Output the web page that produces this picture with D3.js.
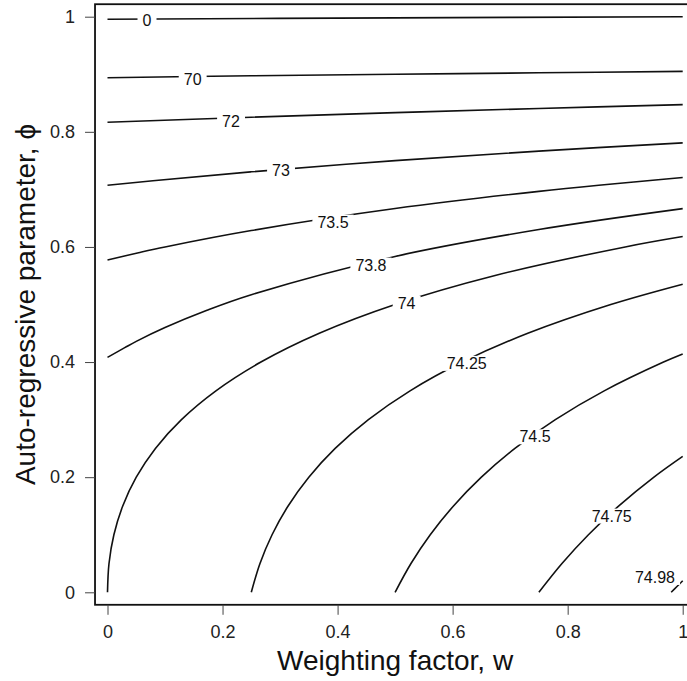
<!DOCTYPE html>
<html>
<head>
<meta charset="utf-8">
<script src="https://cdn.jsdelivr.net/npm/d3@7/dist/d3.min.js"></script>
<style>
  body { margin: 0; background: #fff; }
  svg { font-family: "Liberation Sans", Arial, Helvetica, sans-serif; }
</style>
</head>
<body>
<div id="chart"></div>
<script>
// contour levels and the [w, phi] points of each line
var levels = ["0", "70", "72", "73", "73.5", "73.8", "74", "74.25", "74.5", "74.75", "74.98"];

var line0 = [[0, 0.9955], [0.5, 0.998], [1, 1.0]];
var line70 = [[0, 0.894], [0.25, 0.8973], [0.5, 0.9], [0.75, 0.9025], [1, 0.905]];
var line72 = [[0, 0.8165], [0.25, 0.8254], [0.5, 0.8333], [0.75, 0.8406], [1, 0.8472]];
var line73 = [[0, 0.7071], [0.079, 0.715], [0.25, 0.7305], [0.5, 0.75], [0.75, 0.7665], [1, 0.7808]];
var line735 = [[0, 0.5774], [0.054, 0.59], [0.1, 0.6], [0.25, 0.6285], [0.5, 0.6667], [0.75, 0.6965], [1, 0.7207]];
var line738 = [[0, 0.4082], [0.03, 0.425], [0.05, 0.436], [0.1, 0.46], [0.173, 0.49], [0.25, 0.517], [0.5, 0.5835], [0.75, 0.6302], [1, 0.6665]];
var line74 = [[0, 0], [0.0026, 0.05], [0.0111, 0.1], [0.0265, 0.15], [0.05, 0.2], [0.0833, 0.25], [0.1286, 0.3],
              [0.1885, 0.35], [0.2667, 0.4], [0.3682, 0.45], [0.5, 0.5], [0.6722, 0.55], [0.9, 0.6], [1, 0.618]];
var line7425 = [[0.25, 0], [0.2651, 0.05], [0.2861, 0.1], [0.314, 0.15], [0.35, 0.2], [0.3958, 0.25], [0.4536, 0.3],
                [0.526, 0.35], [0.6167, 0.4], [0.7307, 0.45], [0.875, 0.5], [1, 0.5353]];
var line745 = [[0.5, 0], [0.5276, 0.05], [0.5611, 0.1], [0.6015, 0.15], [0.65, 0.2], [0.7083, 0.25], [0.7786, 0.3],
               [0.8635, 0.35], [0.9667, 0.4], [1, 0.414]];
var line7475 = [[0.75, 0], [0.7901, 0.05], [0.8361, 0.1], [0.889, 0.15], [0.95, 0.2], [1, 0.236]];
var line7498 = [[0.98, 0], [0.99, 0.01], [1, 0.02]];

var contourLines = [line0, line70, line72, line73, line735, line738, line74, line7425, line745, line7475, line7498];

// where each level's label sits, [w, phi]
var labelPos = [[0.0686, 0.9943], [0.148, 0.8918], [0.2147, 0.8176], [0.3016, 0.7325], [0.392, 0.6433], [0.458, 0.5686],
                [0.52, 0.5021], [0.6245, 0.3979], [0.7432, 0.2703], [0.8766, 0.1326], [0.9518, 0.026]];

var xTicks = [0, 0.2, 0.4, 0.6, 0.8, 1];
var yTicks = [0, 0.2, 0.4, 0.6, 0.8, 1];

var width = 687;
var height = 681;
var plot = { left: 107.5, right: 682.7, top: 16.7, bottom: 592.3 };
var pad = 0.0217;
var tickLength = 10;
var labelFontSize = 16;

var x = d3.scaleLinear().domain([0, 1]).range([plot.left, plot.right]);
var y = d3.scaleLinear().domain([0, 1]).range([plot.bottom, plot.top]);

var fmt = function(d) { return (d === 0 || d === 1) ? String(d) : d3.format(".1f")(d); };

var svg = d3.select("#chart").append("svg")
    .attr("width", width)
    .attr("height", height);

var line = d3.line()
    .x(function(d) { return x(d[0]); })
    .y(function(d) { return y(d[1]); })
    .curve(d3.curveCatmullRom);

svg.append("g")
    .attr("class", "contours")
    .selectAll("path")
    .data(contourLines)
    .enter().append("path")
    .attr("d", line)
    .attr("fill", "none")
    .attr("stroke", "#111")
    .attr("stroke-width", 1.6);

// labels break the line, as R's contour() does
var labels = svg.append("g")
    .attr("class", "labels")
    .selectAll("g")
    .data(levels)
    .enter().append("g")
    .attr("transform", function(d, i) {
        return "translate(" + x(labelPos[i][0]) + "," + y(labelPos[i][1]) + ")";
    });

labels.append("rect").attr("fill", "#fff");

labels.append("text")
    .attr("text-anchor", "middle")
    .attr("dy", "0.35em")
    .style("font-size", labelFontSize + "px")
    .attr("fill", "#111")
    .text(function(d) { return d; });

labels.each(function() {
    var g = d3.select(this);
    var b = g.select("text").node().getBBox();
    g.select("rect")
        .attr("x", b.x - 5)
        .attr("y", b.y + 1)
        .attr("width", b.width + 10)
        .attr("height", b.height - 2);
});

// frame
svg.append("rect")
    .attr("x", x(-pad))
    .attr("y", y(1 + pad))
    .attr("width", x(1 + pad) - x(-pad))
    .attr("height", y(-pad) - y(1 + pad))
    .attr("fill", "none")
    .attr("stroke", "#111")
    .attr("stroke-width", 1.8);

var xAxis = d3.axisBottom(x).tickValues(xTicks).tickFormat(fmt).tickSize(tickLength).tickPadding(10);
var yAxis = d3.axisLeft(y).tickValues(yTicks).tickFormat(fmt).tickSize(tickLength).tickPadding(10);

var gx = svg.append("g")
    .attr("class", "x axis")
    .attr("transform", "translate(0," + y(-pad) + ")")
    .call(xAxis);

var gy = svg.append("g")
    .attr("class", "y axis")
    .attr("transform", "translate(" + x(-pad) + ",0)")
    .call(yAxis);

[gx, gy].forEach(function(g) {
    g.select(".domain").remove();
    g.selectAll(".tick line").attr("stroke", "#444").attr("stroke-width", 1);
    g.selectAll(".tick text")
        .attr("fill", "#222")
        .style("font-size", "18px")
        .style("font-family", "\"Liberation Sans\", Arial, sans-serif");
});

svg.append("text")
    .attr("class", "x label")
    .attr("text-anchor", "middle")
    .attr("x", (plot.left + plot.right) / 2)
    .attr("y", 670)
    .style("font-size", "28px")
    .attr("fill", "#111")
    .text("Weighting factor, w");

svg.append("text")
    .attr("class", "y label")
    .attr("text-anchor", "middle")
    .attr("transform", "translate(35," + ((plot.top + plot.bottom) / 2) + ") rotate(-90)")
    .style("font-size", "28px")
    .attr("fill", "#111")
    .text("Auto-regressive parameter, \u03d5");
</script>
</body>
</html>
